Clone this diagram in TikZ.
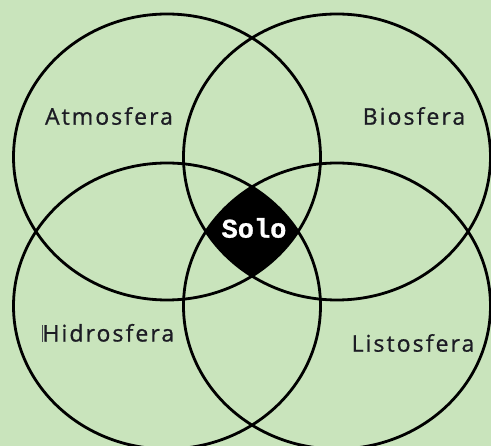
\documentclass[tikz,border=0pt]{standalone}
\usepackage{fontspec}
\setmainfont{Open Sans}[LetterSpace=9,FakeBold=0.8]
\newfontfamily\solofont{Liberation Mono}[FakeBold=1]
\definecolor{bgreen}{HTML}{C9E4BC}
\definecolor{ink}{HTML}{1C1C24}
\tikzset{
  sphere/.style={line width=2.8pt},
  sphlabel/.style={text=ink,font=\fontsize{23}{26}\selectfont,inner sep=0pt}
}
\begin{document}
\begin{tikzpicture}[x=1pt,y=-1pt]
\fill[bgreen] (0,0) rectangle (491,446);
\useasboundingbox (0,0) rectangle (491,446);

% centre part shared by all four
\begin{scope}
\clip (167,157) ellipse [x radius=153.5pt, y radius=143pt];
\clip (337,157) ellipse [x radius=153.5pt, y radius=143pt];
\clip (167,306) ellipse [x radius=153.5pt, y radius=143pt];
\clip (337,306) ellipse [x radius=153.5pt, y radius=143pt];
\fill[black] (0,0) rectangle (491,446);
\end{scope}

\draw[sphere] (167,157) ellipse [x radius=153.5pt, y radius=143pt];
\draw[sphere] (337,157) ellipse [x radius=153.5pt, y radius=143pt];
\draw[sphere] (167,306) ellipse [x radius=153.5pt, y radius=143pt];
\draw[sphere] (337,306) ellipse [x radius=153.5pt, y radius=143pt];

\node[sphlabel] (atmo) at (109,116) {Atmosfera};
\node[sphlabel] (bio) at (414,116) {Biosfera};
\node[sphlabel] (hidro) at (108,333) {\textcolor{ink!80}{\rule[-0.5pt]{1.2pt}{17pt}}\kern-0.5pt Hidrosfera};
\node[sphlabel] (lito) at (413,343) {Listosfera};
\node[text=white,font=\solofont\bfseries\fontsize{27}{29}\selectfont,inner sep=0pt] (solo) at (254,228) {Solo};
\end{tikzpicture}
\end{document}
